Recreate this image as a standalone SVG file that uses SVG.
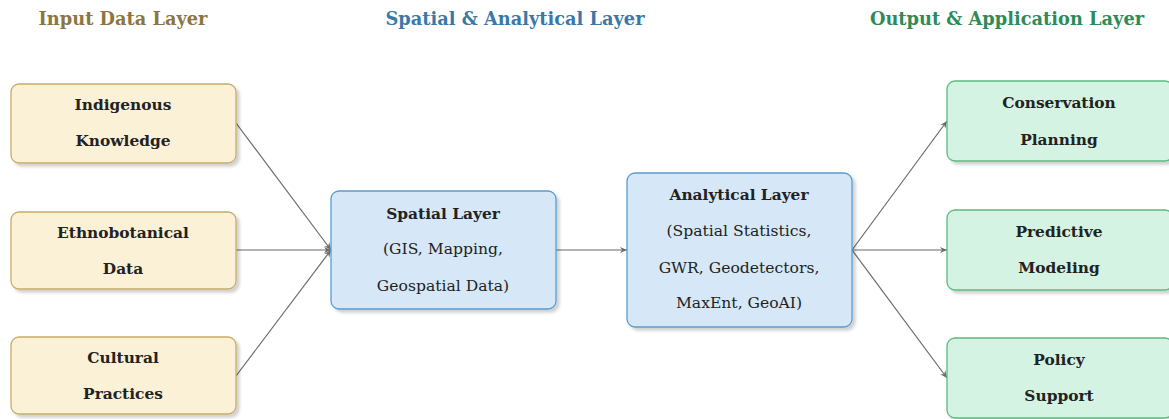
<svg xmlns="http://www.w3.org/2000/svg" width="1169" height="419" viewBox="0 0 1169 419">
<defs>
<filter id="sh" x="-10%" y="-10%" width="130%" height="130%"><feDropShadow dx="3" dy="3" stdDeviation="1.5" flood-color="#000" flood-opacity="0.18"/></filter>
<marker id="ah" viewBox="0 0 10 10" refX="9" refY="5" markerWidth="8" markerHeight="8" orient="auto" markerUnits="userSpaceOnUse"><path d="M0,1 L9,5 L0,9 L3,5 Z" fill="#6a6a6a"/></marker>
</defs>
<style>
text{font-family:"DejaVu Serif","Liberation Serif",serif;text-anchor:middle;fill:#222}
.t{font-size:17.8px;font-weight:bold}
.b{font-size:15.4px;font-weight:bold}
.r{font-size:15.6px}
.y{fill:#FBF1D6;stroke:#C7AC68;stroke-width:1.3}
.u{fill:#D6E8F7;stroke:#5A9BD0;stroke-width:1.3}
.g{fill:#D4F3E2;stroke:#5CBB80;stroke-width:1.3}
.c{stroke:#6a6a6a;stroke-width:1.2;fill:none;marker-end:url(#ah)}
</style>
<rect width="1169" height="419" fill="#fff"/>
<text class="t" x="123" y="25" style="fill:#8B7540">Input Data Layer</text>
<text class="t" x="515" y="25" style="fill:#3A78A8">Spatial &amp; Analytical Layer</text>
<text class="t" x="1007" y="25" style="fill:#2E8B57">Output &amp; Application Layer</text>
<g id="connectors">
<line class="c" x1="236" y1="123" x2="331" y2="250"/>
<line class="c" x1="236" y1="250" x2="331" y2="250"/>
<line class="c" x1="236" y1="376" x2="331" y2="250"/>
<line class="c" x1="556" y1="250" x2="627" y2="250"/>
<line class="c" x1="852" y1="250" x2="947" y2="121"/>
<line class="c" x1="852" y1="250" x2="947" y2="250"/>
<line class="c" x1="852" y1="250" x2="947" y2="378"/>
</g>
<g id="indigenous"><rect class="y" x="11" y="84" width="225" height="79" rx="8" filter="url(#sh)"/><text class="b" x="123" y="110">Indigenous</text><text class="b" x="123" y="146">Knowledge</text></g>
<g id="ethnobotanical"><rect class="y" x="11" y="212" width="225" height="77" rx="8" filter="url(#sh)"/><text class="b" x="123" y="238">Ethnobotanical</text><text class="b" x="123" y="274">Data</text></g>
<g id="cultural"><rect class="y" x="11" y="337" width="225" height="77" rx="8" filter="url(#sh)"/><text class="b" x="123" y="363">Cultural</text><text class="b" x="123" y="399">Practices</text></g>
<g id="spatial"><rect class="u" x="331" y="191" width="225" height="118" rx="8" filter="url(#sh)"/><text class="b" x="443" y="219">Spatial Layer</text><text class="r" x="443" y="254">(GIS, Mapping,</text><text class="r" x="443" y="291">Geospatial Data)</text></g>
<g id="analytical"><rect class="u" x="627" y="173" width="225" height="154" rx="8" filter="url(#sh)"/><text class="b" x="739" y="200">Analytical Layer</text><text class="r" x="739" y="236">(Spatial Statistics,</text><text class="r" x="739" y="273">GWR, Geodetectors,</text><text class="r" x="739" y="308">MaxEnt, GeoAI)</text></g>
<g id="conservation"><rect class="g" x="947" y="81" width="226" height="80" rx="8" filter="url(#sh)"/><text class="b" x="1059" y="108">Conservation</text><text class="b" x="1059" y="145">Planning</text></g>
<g id="predictive"><rect class="g" x="947" y="210" width="226" height="80" rx="8" filter="url(#sh)"/><text class="b" x="1059" y="237">Predictive</text><text class="b" x="1059" y="273">Modeling</text></g>
<g id="policy"><rect class="g" x="947" y="338" width="226" height="80" rx="8" filter="url(#sh)"/><text class="b" x="1059" y="365">Policy</text><text class="b" x="1059" y="401">Support</text></g>
</svg>
